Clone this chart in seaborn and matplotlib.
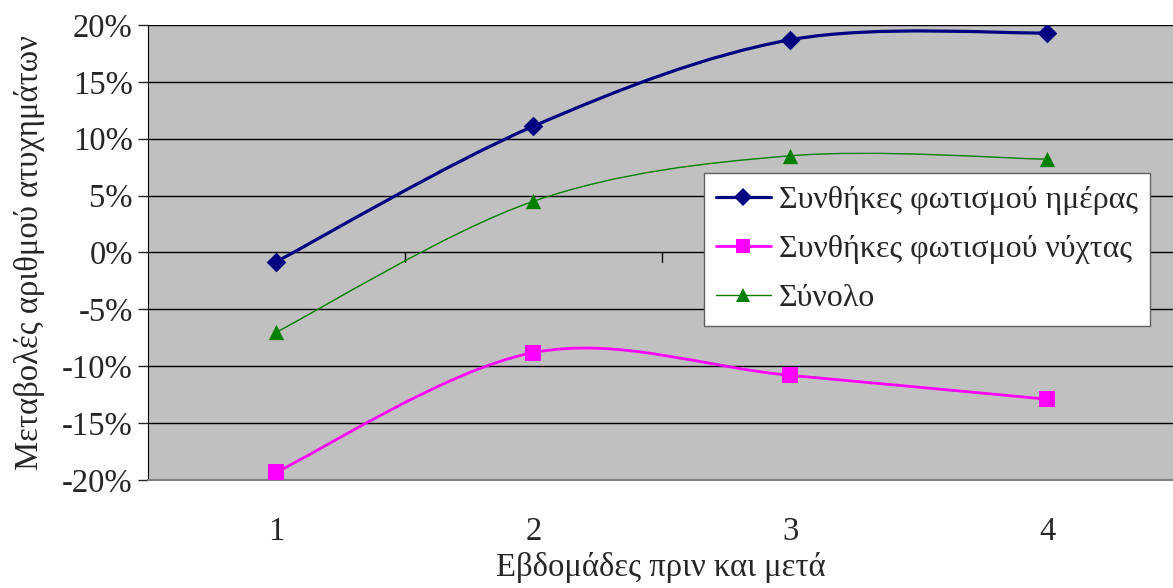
import matplotlib
matplotlib.use('Agg')
import matplotlib.pyplot as plt
import pandas as pd
import seaborn as sns
from matplotlib.path import Path
from matplotlib.patches import PathPatch
from matplotlib.lines import Line2D
from matplotlib.ticker import FuncFormatter

weeks = [1, 2, 3, 4]
day = [-0.8, 11.1, 18.7, 19.3]
night = [-19.3, -8.8, -10.8, -12.9]
total = [-7.0, 4.5, 8.5, 8.2]
names = ['Συνθήκες φωτισμού ημέρας', 'Συνθήκες φωτισμού νύχτας', 'Σύνολο']

sns.set_style('white')
plt.rcParams['font.family'] = ['Liberation Serif', 'DejaVu Serif']
FS = 23.5

df = pd.DataFrame({'week': weeks * 3,
                   'value': day + night + total,
                   'series': [names[0]] * 4 + [names[1]] * 4 + [names[2]] * 4})

styles = {names[0]: dict(color='#000080', marker='D', lw=2.3, ms=10),
          names[1]: dict(color='#FF00FF', marker='s', lw=2.0, ms=11),
          names[2]: dict(color='#008000', marker='^', lw=1.0, ms=11)}

fig = plt.figure(figsize=(11.73, 5.88), dpi=100)
ax = fig.add_axes([0.1262, 0.1837, 0.8738, 0.7738])
ax.set_facecolor('#C0C0C0')


def smooth_path(xs, ys):
    # excel-style smoothed line: cubic bezier through the points
    pts = list(zip(xs, ys))
    verts = [pts[0]]
    codes = [Path.MOVETO]
    n = len(pts)
    for i in range(n - 1):
        p0 = pts[max(i - 1, 0)]
        p1 = pts[i]
        p2 = pts[i + 1]
        p3 = pts[min(i + 2, n - 1)]
        c1 = (p1[0] + (p2[0] - p0[0]) / 6, p1[1] + (p2[1] - p0[1]) / 6)
        c2 = (p2[0] - (p3[0] - p1[0]) / 6, p2[1] - (p3[1] - p1[1]) / 6)
        verts += [c1, c2, p2]
        codes += [Path.CURVE4] * 3
    return Path(verts, codes)


for name in names:
    sub = df[df.series == name]
    st = styles[name]
    ax.add_patch(PathPatch(smooth_path(sub.week.tolist(), sub.value.tolist()),
                           facecolor='none', edgecolor=st['color'], lw=st['lw'], zorder=3))
    sns.scatterplot(data=sub, x='week', y='value', ax=ax, marker=st['marker'],
                    color=st['color'], s=st['ms'] ** 2, edgecolor=st['color'],
                    linewidth=0, zorder=4, legend=False)

ax.set_xlim(0.5, 4.49)
ax.set_ylim(-20, 20)
ax.set_yticks(range(-20, 21, 5))
ax.yaxis.set_major_formatter(FuncFormatter(lambda v, p: f'{v:.0f}%'))
ax.grid(axis='y', color='black', lw=1)
ax.set_axisbelow(True)

# x axis crosses at 0, labels at bottom
ax.set_xticks(weeks)
ax.set_xticklabels([str(w) for w in weeks])
ax.tick_params(axis='x', length=0, pad=26, labelsize=FS)
ax.tick_params(axis='y', length=7, width=1, direction='out', labelsize=FS, pad=4, left=True)
for w in [1.5, 2.5, 3.5]:
    ax.plot([w, w], [0, -0.8], color='black', lw=1, zorder=2)

for s in ['top', 'right']:
    ax.spines[s].set_visible(False)
ax.spines['left'].set_color('black')
ax.spines['bottom'].set_color('#808080')
ax.spines['bottom'].set_linewidth(1.5)

ax.set_xlabel('Εβδομάδες πριν και μετά', fontsize=FS, labelpad=4)
ax.set_ylabel('Μεταβολές αριθμού ατυχημάτων', fontsize=FS, labelpad=12)

handles = [Line2D([0], [0], color=styles[n]['color'], lw=styles[n]['lw'],
                  marker=styles[n]['marker'], ms=styles[n]['ms'] * 0.9,
                  markeredgewidth=0) for n in names]
leg = ax.legend(handles, names, loc='upper left', bbox_to_anchor=(0.542, 0.675),
                fontsize=23, frameon=True, fancybox=False, handlelength=1.7,
                handletextpad=0.25, borderpad=0.4, labelspacing=0.62,
                borderaxespad=0)
leg.get_frame().set_edgecolor('#606060')
leg.get_frame().set_linewidth(1)
leg.get_frame().set_alpha(1)

fig.savefig('out.png', dpi=100)
